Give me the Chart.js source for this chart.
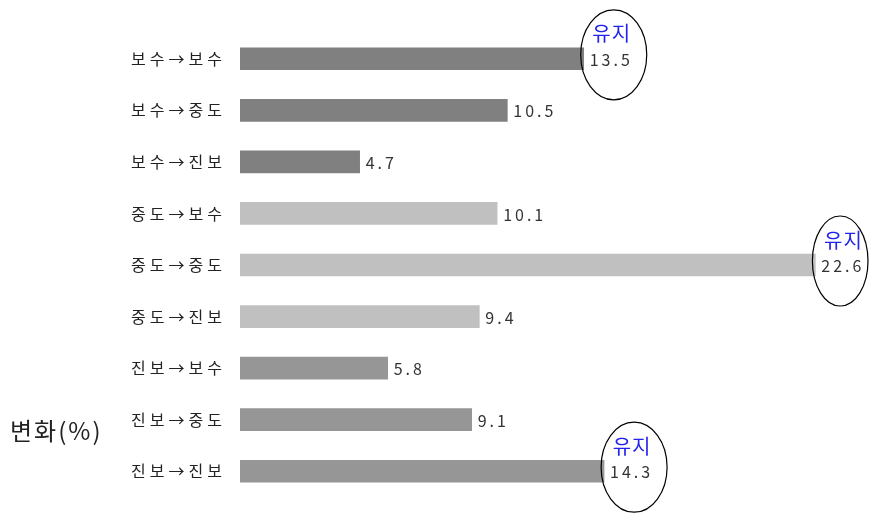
<!DOCTYPE html>
<html>
<head>
<meta charset="utf-8">
<script src="https://cdn.jsdelivr.net/npm/chart.js@4"></script>
<style>
  html, body { margin: 0; padding: 0; background: #fff; }
  #wrap { width: 870px; height: 514px; position: relative; }
</style>
</head>
<body>
<div id="wrap"><canvas id="c"></canvas></div>
<script>
// 정치 성향 변화 (이전 → 현재), 단위 %
const categories = ['보수→보수', '보수→중도', '보수→진보', '중도→보수', '중도→중도', '중도→진보', '진보→보수', '진보→중도', '진보→진보'];
const values = [13.5, 10.5, 4.7, 10.1, 22.6, 9.4, 5.8, 9.1, 14.3];
const axisTitle = '변화(%)';
const keepLabel = '유지';

// 출발 성향별 막대 색
const originColors = { '보수': '#808080', '중도': '#c0c0c0', '진보': '#969696' };
const FONT = '"Noto Sans CJK KR", "Noto Sans", sans-serif';

const origin = s => s.split('→')[0];
const isKept = s => { const p = s.split('→'); return p[0] === p[1]; };

const spacing = {
  id: 'spacing',
  beforeDraw(chart) { chart.ctx.letterSpacing = '4px'; }
};

const annotate = {
  id: 'annotate',
  afterDatasetsDraw(chart) {
    const ctx = chart.ctx;
    const meta = chart.getDatasetMeta(0);
    ctx.save();
    ctx.textBaseline = 'middle';
    meta.data.forEach((bar, i) => {
      const txt = values[i].toFixed(1);
      ctx.letterSpacing = '3px';
      ctx.font = '16px ' + FONT;
      ctx.fillStyle = '#333';
      ctx.textAlign = 'left';
      const lx = bar.x + 6;
      ctx.fillText(txt, lx, bar.y + 1);
      if (isKept(categories[i])) {
        const w = ctx.measureText(txt).width - 3;
        const lc = lx + w / 2;
        // 유지 표시 타원
        const left = lc + 4 - 33, right = Math.min(lc + 4 + 33, chart.width - 2);
        const cx = (left + right) / 2, rx = (right - left) / 2;
        ctx.beginPath();
        ctx.ellipse(cx, bar.y - 4, rx, 45, 0, 0, Math.PI * 2);
        ctx.strokeStyle = '#000';
        ctx.lineWidth = 1.2;
        ctx.stroke();
        ctx.font = '20px ' + FONT;
        ctx.fillStyle = '#2222ee';
        ctx.textAlign = 'center';
        ctx.letterSpacing = '1px';
        ctx.fillText(keepLabel, lc + 2, bar.y - 25);
      }
    });
    // 세로축 제목
    ctx.font = '24px ' + FONT;
    ctx.fillStyle = '#222';
    ctx.textAlign = 'left';
    ctx.letterSpacing = '2px';
    ctx.fillText(axisTitle, 10, 431);
    ctx.restore();
  }
};

new Chart(document.getElementById('c'), {
  type: 'bar',
  data: {
    labels: categories,
    datasets: [{
      data: values,
      backgroundColor: categories.map(c => originColors[origin(c)]),
      barThickness: 22,
      borderWidth: 0
    }]
  },
  options: {
    indexAxis: 'y',
    responsive: true,
    maintainAspectRatio: false,
    animation: false,
    layout: { padding: { left: 0, right: 19, top: 33, bottom: 17 } },
    plugins: { legend: { display: false }, tooltip: { enabled: false } },
    scales: {
      x: { display: false, min: 0, max: 24 },
      y: {
        grid: { display: false, drawTicks: false },
        border: { display: false },
        ticks: { padding: 14, color: '#222', font: { size: 16, family: FONT } },
        afterFit(scale) {
          scale.width = 240;
          scale.paddingTop = 0;
          scale.paddingBottom = 0;
        }
      }
    }
  },
  plugins: [spacing, annotate]
});
</script>
</body>
</html>
